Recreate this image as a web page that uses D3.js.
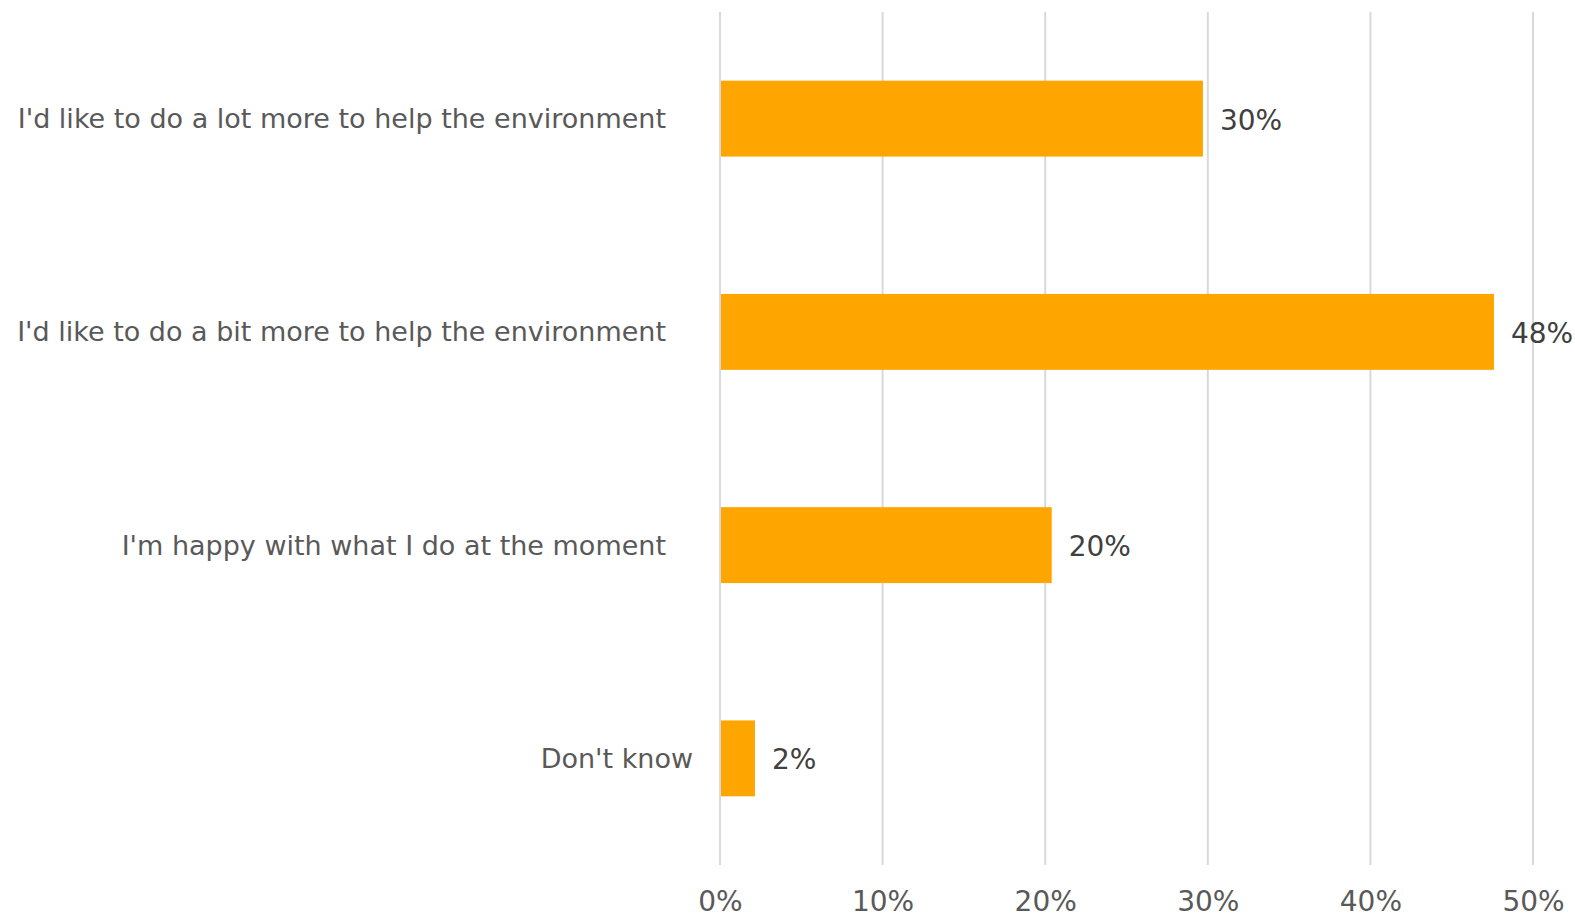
<!DOCTYPE html>
<html><head><meta charset="utf-8">
<script src="https://cdn.jsdelivr.net/npm/d3@7"></script>
<style>
html,body{margin:0;padding:0;background:#fff;}
svg{display:block;}
</style></head>
<body>
<svg id="chart" width="1575" height="914"></svg>
<script>
const categories = [
  "I'd like to do a lot more to help the environment",
  "I'd like to do a bit more to help the environment",
  "I'm happy with what I do at the moment",
  "Don't know"
];
const values = [29.7, 47.6, 20.4, 2.15];
const valueLabels = ["30%", "48%", "20%", "2%"];
const tickValues = [0, 10, 20, 30, 40, 50];
const tickLabels = ["0%", "10%", "20%", "30%", "40%", "50%"];

(function () {
const svg = d3.select("#chart");
const font = "'DejaVu Sans', Verdana, sans-serif";
const plotLeft = 720, plotRight = 1533, plotTop = 12, plotBottom = 865;

const x = d3.scaleLinear().domain([0, 50]).range([plotLeft, plotRight]);
const y = d3.scaleBand().domain(categories).range([plotTop, plotBottom]).paddingInner(0.644).paddingOuter(0.322);

// gridlines
svg.append("g").selectAll("line").data(tickValues).join("line")
  .attr("x1", d => x(d)).attr("x2", d => x(d))
  .attr("y1", plotTop).attr("y2", plotBottom)
  .attr("stroke", "#d9d9d9").attr("stroke-width", 2);

// bars
svg.append("g").selectAll("rect").data(categories).join("rect")
  .attr("x", x(0) + 1)
  .attr("y", d => y(d))
  .attr("width", (d, i) => x(values[i]) - x(0) - 1)
  .attr("height", y.bandwidth())
  .attr("fill", "#FFA500");

// value labels
svg.append("g").selectAll("text").data(categories).join("text")
  .attr("x", (d, i) => x(values[i]) + 17)
  .attr("y", d => y(d) + y.bandwidth() / 2 + 3)
  .attr("dominant-baseline", "middle")
  .attr("font-family", font).attr("font-size", 28)
  .attr("fill", "#404040")
  .text((d, i) => valueLabels[i]);

// category axis labels
const catG = svg.append("g");
catG.selectAll("text").data(categories).join("text")
  .attr("y", d => y(d) + y.bandwidth() / 2 + 2)
  .attr("dominant-baseline", "middle")
  .attr("text-anchor", "end")
  .attr("font-family", font).attr("font-size", 27)
  .attr("fill", "#595959")
  .text(d => d)
  .attr("x", function() { return this.getComputedTextLength() > 300 ? plotLeft - 54 : plotLeft - 27; });

// x axis tick labels
const xAxis = d3.axisBottom(x).tickValues(tickValues)
  .tickFormat((d, i) => tickLabels[i]).tickSize(0).tickPadding(0);
const ax = svg.append("g").attr("transform", `translate(0,${plotBottom})`).call(xAxis);
ax.select(".domain").remove();
ax.selectAll("text")
  .attr("y", 38).attr("dy", "0")
  .attr("dominant-baseline", "middle")
  .attr("font-family", font).attr("font-size", 28)
  .attr("fill", "#595959");
})();
</script>
</body></html>
